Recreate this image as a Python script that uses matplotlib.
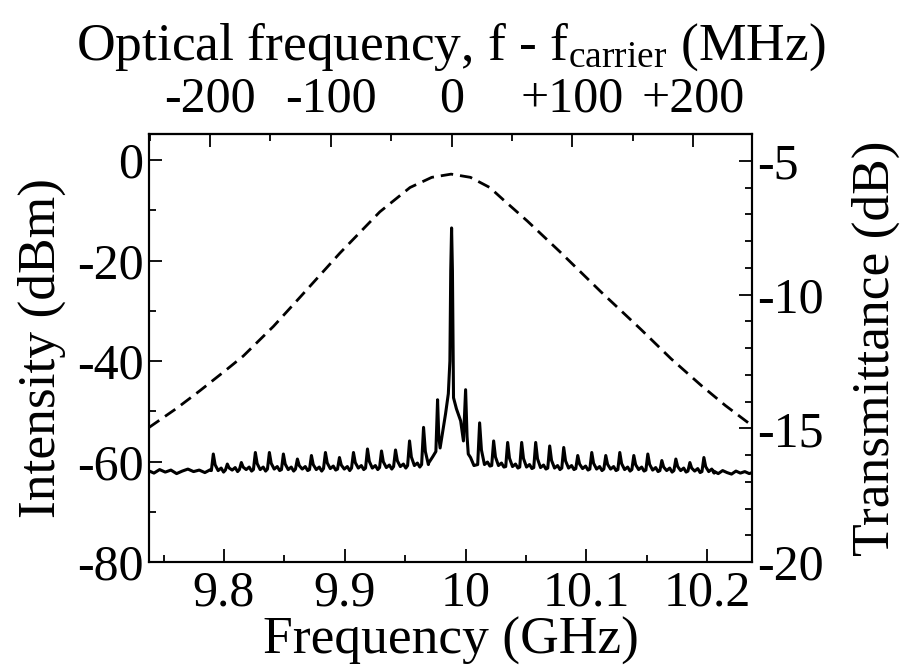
import numpy as np
import matplotlib.pyplot as plt
from matplotlib.ticker import MultipleLocator, FixedLocator, FixedFormatter, FuncFormatter

plt.rcParams['font.family'] = ['Liberation Serif', 'DejaVu Serif']
plt.rcParams['mathtext.fontset'] = 'custom'
plt.rcParams['mathtext.rm'] = 'Liberation Serif'
plt.rcParams['mathtext.it'] = 'Liberation Serif:italic'
plt.rcParams['axes.unicode_minus'] = False

F_CARRIER = 9.9884   # GHz, position of the carrier line
SB_SPACING = 11.6    # MHz between sidebands

# filter transmittance (dashed), GHz / dB
trans_freq = [9.738, 9.761, 9.780, 9.801, 9.816, 9.841, 9.863, 9.896,
              9.929, 9.954, 9.972, 9.988, 10.004, 10.020, 10.031, 10.051,
              10.078, 10.112, 10.145, 10.170, 10.195, 10.215, 10.237]
trans_db = [-14.97, -14.25, -13.6, -12.85, -12.3, -11.19, -10.1, -8.45,
            -6.91, -6.0, -5.62, -5.5, -5.62, -6.0, -6.45, -7.25,
            -8.4, -9.9, -11.3, -12.4, -13.4, -14.15, -14.9]

# carrier and first pair of sidebands, offset from carrier (MHz) / dBm
core_offset = [-19.0, -15.5, -13.0, -11.6, -10.6, -9.5, -7.0, -5.0, -2.7,
               -1.4, -0.7, 0.0, 0.7, 1.6, 4.0, 7.5, 9.8, 11.6, 12.8, 13.8,
               15.7, 18.5]
core_dbm = [-60.3, -59.0, -58.0, -47.7, -55.0, -57.3, -53.5, -50.5, -46.5,
            -40.0, -22.0, -13.5, -22.0, -47.3, -49.5, -51.9, -55.9, -45.7,
            -55.0, -58.5, -59.2, -60.8]

# outer sidebands: order, peak level, noise floor beside it
sb_order_left = list(range(-17, -1))
sb_peak_left = [-58.5, -60.5, -60.2, -58.2, -58.2, -58.5, -59.5, -58.8,
                -58.2, -59.2, -58.2, -57.5, -57.9, -57.7, -55.9, -53.2]
sb_floor_left = [-61.8, -61.7, -61.6, -61.6, -61.5, -61.6, -61.5, -61.6,
                 -61.4, -61.5, -61.3, -61.3, -61.2, -61.0, -60.8, -60.6]
sb_order_right = list(range(2, 19))
sb_peak_right = [-52.3, -55.9, -56.2, -56.2, -56.2, -56.9, -57.2, -58.8,
                 -58.2, -58.8, -58.2, -58.8, -58.5, -59.8, -59.5, -60.2, -59.2]
sb_floor_right = [-60.6, -60.8, -61.0, -61.1, -61.2, -61.3, -61.3, -61.4,
                  -61.5, -61.5, -61.6, -61.6, -61.7, -61.8, -61.8, -61.9, -62.0]

# noise floor beyond the last sidebands
edge_left_dbm = [-61.8, -62.3, -61.6, -62.1, -61.7, -62.4, -61.9, -61.5,
                 -62.0, -61.7, -62.2, -61.6]
edge_right_dbm = [-61.9, -62.4, -61.8, -62.2, -62.5, -61.9, -62.3, -62.0,
                  -62.4, -62.1]


def sideband(k, peak, floor):
    # sharp rise, short tail back down to the floor, a little ripple in the gap
    c = k * SB_SPACING
    return ([c - 1.6, c, c + 1.5, c + 4.0, c + 6.5, c + 8.5],
            [floor, peak, floor + 0.35 * (peak - floor), floor,
             floor + 0.5, floor - 0.3])


off, lev = [], []
off += list(np.linspace(-251, -199.5, len(edge_left_dbm)))
lev += edge_left_dbm
for k, p, fl in zip(sb_order_left, sb_peak_left, sb_floor_left):
    o, l = sideband(k, p, fl)
    if k == -2:
        o, l = o[:4], l[:4]
    off += o
    lev += l
off += core_offset
lev += core_dbm
for k, p, fl in zip(sb_order_right, sb_peak_right, sb_floor_right):
    o, l = sideband(k, p, fl)
    off += o
    lev += l
off += list(np.linspace(217, 250, len(edge_right_dbm)))
lev += edge_right_dbm
spec_freq = F_CARRIER + np.array(off) / 1000.0

TICK = 36
LABEL = 38.5

fig = plt.figure(figsize=(9.01, 6.67), dpi=100)
ax = fig.add_axes([0.1654, 0.1574, 0.6692, 0.6417])
ax.plot(spec_freq, lev, color='black', lw=2.2, solid_joinstyle='round')
ax.set_xlim(9.738, 10.237)
ax.set_ylim(-80, 5.2)
ax.xaxis.set_major_locator(MultipleLocator(0.1))
ax.xaxis.set_minor_locator(MultipleLocator(0.05))
ax.xaxis.set_major_formatter(FuncFormatter(lambda v, p: '%g' % round(v, 3)))
ax.yaxis.set_major_locator(MultipleLocator(20))
ax.yaxis.set_minor_locator(MultipleLocator(10))
ax.yaxis.set_major_formatter(FuncFormatter(lambda v, p: '%g' % v))
ax.set_xlabel('Frequency (GHz)', fontsize=LABEL, labelpad=0)
ax.set_ylabel('Intensity (dBm)', fontsize=LABEL, labelpad=8)

ax2 = ax.twinx()
ax2.plot(trans_freq, trans_db, color='black', lw=2.0, dashes=(4.5, 2.5))
ax2.set_ylim(-20, -4)
ax2.yaxis.set_major_locator(MultipleLocator(5))
ax2.yaxis.set_minor_locator(MultipleLocator(1))
ax2.yaxis.set_major_formatter(FuncFormatter(lambda v, p: '%g' % v))
ax2.set_ylabel('Transmittance (dB)', fontsize=LABEL, rotation=90, labelpad=20)

top = ax.secondary_xaxis('top', functions=(lambda f: (f - F_CARRIER) * 1000,
                                            lambda m: m / 1000 + F_CARRIER))
top.xaxis.set_major_locator(FixedLocator([-200, -100, 0, 100, 200]))
top.xaxis.set_major_formatter(FixedFormatter(['-200', '-100', '0', '+100', '+200']))
top.xaxis.set_minor_locator(MultipleLocator(50))
top.set_xlabel(r'Optical frequency, f - f$_{\mathrm{carrier}}$ (MHz)', fontsize=LABEL, labelpad=12)

for a in (ax, ax2, top):
    for s in a.spines.values():
        s.set_linewidth(1.5)
    a.tick_params(which='both', direction='in', width=1.3, labelsize=TICK)
    a.tick_params(which='major', length=9.5)
    a.tick_params(which='minor', length=5)
ax.tick_params(top=False, right=False, pad=6)
ax.tick_params(axis='y', pad=4)
ax2.tick_params(axis='y', pad=4)
top.tick_params(pad=8)

fig.savefig('out.png', dpi=100)
